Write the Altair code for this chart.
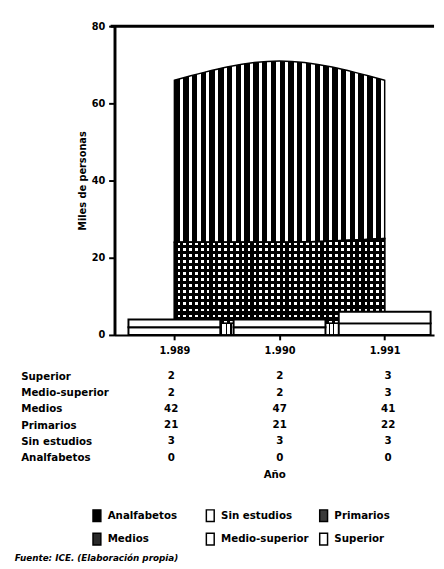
import altair as alt
import pandas as pd

# ---------------- data ----------------
years = [1989, 1990, 1991]
year_labels = ["1.989", "1.990", "1.991"]
table_rows = ["Superior", "Medio-superior", "Medios", "Primarios", "Sin estudios", "Analfabetos"]
superior = [2, 2, 3]
medio_superior = [2, 2, 3]
medios = [42, 47, 41]
primarios = [21, 21, 22]
sin_estudios = [3, 3, 3]
analfabetos = [0, 0, 0]
y_ticks = [0, 20, 40, 60, 80]
legend_order = ["Analfabetos", "Sin estudios", "Primarios", "Medios", "Medio-superior", "Superior"]
legend_fill = ["#000000", "#ffffff", "#3a3a3a", "#2a2a2a", "#ffffff", "#ffffff"]
y_title = "Miles de personas"
x_title = "Año"
source_text = "Fuente: ICE. (Elaboración propia)"

series = {
    "Superior": superior,
    "Medio-superior": medio_superior,
    "Medios": medios,
    "Primarios": primarios,
    "Sin estudios": sin_estudios,
    "Analfabetos": analfabetos,
}

FONT = "DejaVu Sans"
W, H = 327, 316
TH = 100


def stacked(order):
    rows = []
    base = [0] * len(years)
    for name in order:
        vals = series[name]
        for i, yr in enumerate(years):
            rows.append({"serie": name, "year": yr, "low": base[i], "high": base[i] + vals[i]})
        base = [b + v for b, v in zip(base, vals)]
    return pd.DataFrame(rows)


area_df = stacked(["Analfabetos", "Sin estudios", "Primarios", "Medios"])
box_df = stacked(["Medio-superior", "Superior"])

table_df = pd.DataFrame(
    [{"cat": c, "year": yr, "value": series[c][i]} for c in table_rows for i, yr in enumerate(years)]
)


def stripes(n, dark_frac, dark, light, vertical=True):
    stops = []
    for k in range(n):
        a = k / n
        b = (k + dark_frac) / n
        c = (k + 1) / n
        stops += [
            alt.GradientStop(offset=a, color=dark),
            alt.GradientStop(offset=b, color=dark),
            alt.GradientStop(offset=b, color=light),
            alt.GradientStop(offset=c, color=light),
        ]
    if vertical:
        return alt.LinearGradient(gradient="linear", stops=stops, x1=0, x2=1, y1=0, y2=0)
    return alt.LinearGradient(gradient="linear", stops=stops, x1=0, x2=0, y1=0, y2=1)


TR = "rgba(0,0,0,0)"
xscale = alt.Scale(domain=[1988.477, 1991.423], nice=False, zero=False)
yscale = alt.Scale(domain=[0, 80], nice=False)

label_expr = " : ".join(
    f"datum.value == {y} ? '{l}'" for y, l in zip(years, year_labels)
) + " : ''"

x_main = alt.X(
    "year:Q",
    scale=xscale,
    axis=alt.Axis(
        values=years, labelExpr=label_expr, title=None, grid=False,
        tickSize=5, tickWidth=2, tickColor="black", domainWidth=2, domainColor="black",
        labelPadding=6, labelFontSize=10, labelFontWeight="bold", labelFont=FONT, labelColor="black",
    ),
)
y_main = alt.Y(
    "low:Q",
    scale=yscale,
    axis=alt.Axis(
        values=y_ticks, title=y_title, grid=False, tickSize=6, tickWidth=2, tickColor="black",
        domainWidth=3, domainColor="black", labelPadding=4, labelFontSize=10,
        labelFontWeight="bold", labelFont=FONT, labelColor="black",
        titleFont=FONT, titleFontSize=10, titleFontWeight="bold", titleColor="black", titlePadding=4,
    ),
)

base_area = alt.Chart(area_df)


def area_layer(name, fill, stroke=True):
    kw = dict(interpolate="monotone", fill=fill)
    if stroke:
        kw.update(stroke="black", strokeWidth=1.5)
    else:
        kw.update(strokeWidth=0)
    return base_area.transform_filter(alt.datum.serie == name).mark_area(**kw).encode(
        x=x_main, y=y_main, y2="high:Q"
    )


layers = [
    area_layer("Medios", stripes(24, 0.62, "#000000", "#ffffff")),
    area_layer("Primarios", "#ffffff"),
    area_layer("Primarios", stripes(36, 0.55, "#000000", TR), stroke=False),
    area_layer("Primarios", stripes(14, 0.55, "#000000", TR, vertical=False)),
    area_layer("Sin estudios", stripes(45, 0.25, "#000000", "#ffffff")),
    area_layer("Analfabetos", "#000000"),
]

boxes = alt.Chart(box_df).mark_bar(size=94, fill="white", stroke="black", strokeWidth=2).encode(
    x=x_main, y=y_main, y2="high:Q"
)

top_rule = alt.Chart(pd.DataFrame({"k": [0]})).mark_rule(color="black", strokeWidth=3).encode(
    x=alt.value(-4), x2=alt.value(W), y=alt.value(0)
)

main = alt.layer(*layers, boxes, top_rule).properties(width=W, height=H)

# -------- table + legend --------
table_text = alt.Chart(table_df).mark_text(
    font=FONT, fontSize=10.5, fontWeight="bold", color="black"
).encode(
    x=alt.X(
        "year:Q", scale=xscale,
        axis=alt.Axis(title=x_title, labels=False, ticks=False, domain=False, grid=False,
                      titleFont=FONT, titleFontSize=10.5, titleFontWeight="bold", titleColor="black",
                      titlePadding=4),
    ),
    y=alt.Y(
        "cat:N", sort=table_rows, scale=alt.Scale(padding=0.5),
        axis=alt.Axis(title=None, domain=False, ticks=False, tickSize=0, labelAlign="left",
                      labelPadding=96, labelFont=FONT, labelFontSize=10.5, labelFontWeight="bold",
                      labelColor="black"),
    ),
    text="value:Q",
)

legend_layer = alt.Chart(pd.DataFrame({"cat": legend_order})).mark_square(filled=True, opacity=0).encode(
    color=alt.Color(
        "cat:N",
        scale=alt.Scale(domain=legend_order, range=legend_fill),
        legend=alt.Legend(
            title=None, orient="none", legendX=-25, legendY=494, direction="horizontal",
            columns=3, gridAlign="all", columnPadding=7, rowPadding=6,
            symbolType="M-0.67,-1H0.67V1H-0.67Z", symbolSize=144,
            symbolStrokeColor="black", symbolStrokeWidth=1.5, symbolOpacity=1,
            labelFont=FONT, labelFontSize=10.5, labelFontWeight="bold", labelColor="black",
            labelOffset=4, labelLimit=200, padding=0,
        ),
    )
)

table = alt.layer(table_text, legend_layer).properties(width=W, height=TH)

chart = alt.vconcat(main, table, spacing=13).properties(
    padding={"left": 7, "top": 7, "right": 0, "bottom": 3},
    background="white",
    title=alt.TitleParams(
        text=source_text, orient="bottom", anchor="start", font=FONT, fontSize=9,
        fontStyle="italic", fontWeight="bold", color="black", offset=6, dx=-6,
    ),
).configure_view(stroke="transparent", strokeWidth=0)

chart.save("out.html", embed_options={"renderer": "svg", "actions": False})
